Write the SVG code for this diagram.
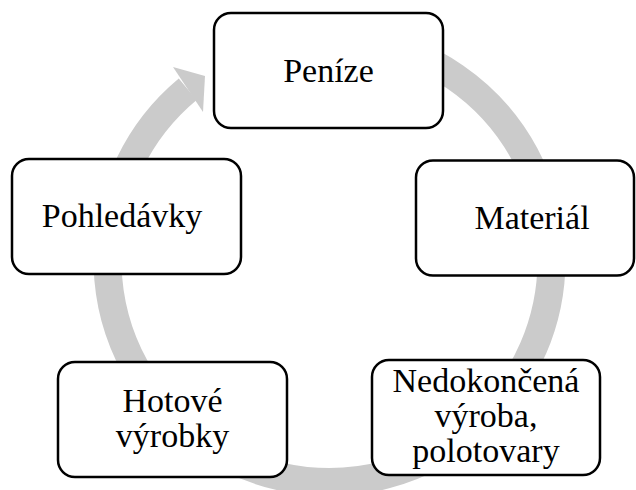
<svg xmlns="http://www.w3.org/2000/svg" width="636" height="490" viewBox="0 0 636 490">
<style>
.box{fill:#ffffff;stroke:#000000;stroke-width:2.5}
.lbl{font-family:"Liberation Serif","Times New Roman",serif;font-size:34px;fill:#000000;text-anchor:middle}
.ring{fill:none;stroke:#cbcbcb;stroke-width:28}
</style>
<rect width="636" height="490" fill="#ffffff"/>
<g id="connectors">
<path class="ring" d="M368.05,41.37 A222,222 0 1 1 187.7,89.2"/>
<polygon points="173,67 205,76 203,112" fill="#cbcbcb"/>
</g>
<g id="node-penize">
<rect class="box" x="214" y="13" width="229" height="115" rx="17"/>
<text class="lbl" x="328.5" y="82">Peníze</text>
</g>
<g id="node-material">
<rect class="box" x="416" y="160.5" width="218" height="115" rx="17"/>
<text class="lbl" x="532" y="229">Materiál</text>
</g>
<g id="node-nedokoncena">
<rect class="box" x="372" y="360" width="228" height="115" rx="17"/>
<text class="lbl" x="486" y="392">Nedokončená</text>
<text class="lbl" x="486" y="427">výroba,</text>
<text class="lbl" x="486" y="462">polotovary</text>
</g>
<g id="node-hotove">
<rect class="box" x="58" y="362" width="229" height="115" rx="17"/>
<text class="lbl" x="172.5" y="412">Hotové</text>
<text class="lbl" x="172.5" y="447">výrobky</text>
</g>
<g id="node-pohledavky">
<rect class="box" x="12" y="159" width="229" height="115" rx="17"/>
<text class="lbl" x="122" y="227">Pohledávky</text>
</g>
</svg>
